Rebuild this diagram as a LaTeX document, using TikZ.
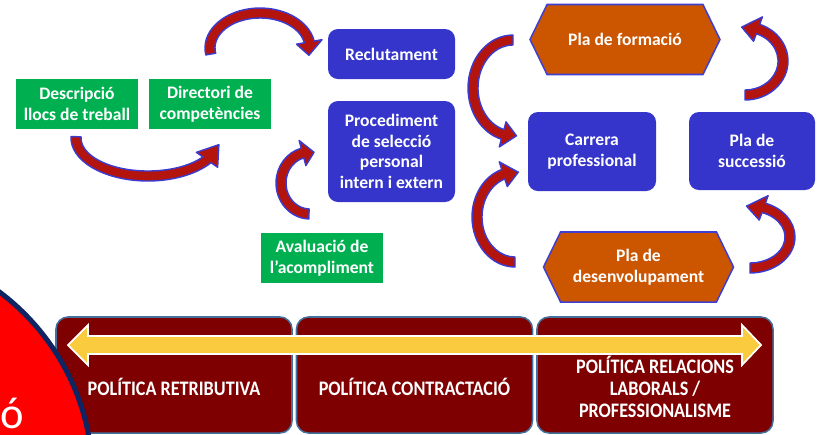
\documentclass[tikz,border=0pt]{standalone}
\usepackage{fontspec}
\setmainfont{Carlito}
\newfontfamily\polfont[FakeStretch=0.88]{Carlito}
\usetikzlibrary{shapes.symbols, calc}

\definecolor{greenbox}{HTML}{00B050}
\definecolor{bluebox}{HTML}{3535CB}
\definecolor{orangebox}{HTML}{CC5500}
\definecolor{hexline}{HTML}{3F3FD0}
\definecolor{maroon}{HTML}{7F0000}
\definecolor{polline}{HTML}{41719C}
\definecolor{yellowarrow}{HTML}{FACB3E}
\definecolor{navy}{HTML}{0F2463}
\definecolor{ribbonred}{HTML}{B3150E}
\definecolor{ribbonline}{HTML}{3B3BD1}

% curved block arrow: centre x, centre y, rx, ry, tail angle, head base angle, tip angle
\newcommand{\ribbon}[7]{%
  \begin{scope}[shift={(#1,#2)}]
    \pgfmathsetmacro\rxo{#3+5}\pgfmathsetmacro\ryo{#4+5}
    \pgfmathsetmacro\rxi{#3-5}\pgfmathsetmacro\ryi{#4-5}
    \pgfmathsetmacro\rxh{#3+13}\pgfmathsetmacro\ryh{#4+13}
    \pgfmathsetmacro\rxl{#3-13}\pgfmathsetmacro\ryl{#4-13}
    \draw[ribbonarrow] ({\rxo*cos(#5)},{\ryo*sin(#5)})
      arc[start angle=#5, end angle=#6, x radius=\rxo, y radius=\ryo]
      -- ({\rxh*cos(#6)},{\ryh*sin(#6)}) -- ({#3*cos(#7)},{#4*sin(#7)})
      -- ({\rxl*cos(#6)},{\ryl*sin(#6)}) -- ({\rxi*cos(#6)},{\ryi*sin(#6)})
      arc[start angle=#6, end angle=#5, x radius=\rxi, y radius=\ryi] -- cycle;
  \end{scope}}

\begin{document}
\begin{tikzpicture}[x=0.03cm, y=0.03cm,
    every node/.style={text=white, align=center, font=\fontsize{15}{17.5}\selectfont\bfseries},
    greenbox/.style={fill=greenbox, minimum width=3.66cm, minimum height=1.5cm, inner sep=0pt},
    bluebox/.style={fill=bluebox, rounded corners=0.3cm, inner sep=0pt},
    hexbox/.style={shape=signal, signal to=east and west, signal pointer angle=128,
      fill=orangebox, draw=hexline, line width=1.3pt, minimum width=5.7cm, minimum height=2.1cm, inner sep=0pt},
    polbox/.style={fill=maroon, draw=polline, line width=1.3pt, rounded corners=0.36cm,
      minimum width=7.08cm, minimum height=3.48cm},
    poltext/.style={font=\fontsize{17.6}{18.7}\polfont\bfseries},
    ribbonarrow/.style={fill=ribbonred, draw=ribbonline, line width=1.2pt, line join=round}]
  \clip (0,0) rectangle (817,-434);

  \node[greenbox] (desc) at (77,-104) {Descripció\\llocs de treball};
  \node[greenbox] (dir) at (210,-104) {Directori de\\competències};
  \node[greenbox] (aval) at (322,-258) {Avaluació de\\l’acompliment};

  \node[bluebox, minimum width=3.81cm, minimum height=1.5cm] (recl) at (391.5,-54) {Reclutament};
  \node[bluebox, minimum width=3.81cm, minimum height=3.03cm] (proc) at (391.5,-151.5)
    {Procediment\\de selecció\\personal\\intern i extern};
  \node[bluebox, minimum width=3.84cm, minimum height=2.37cm] (carr) at (592,-151.5) {Carrera\\professional};
  \node[bluebox, minimum width=3.78cm, minimum height=2.34cm] (succ) at (752,-151) {Pla de\\successió};

  \node[hexbox] (form) at (625,-39.5) {Pla de formació};
  \node[hexbox] (desenv) at (638.5,-267) {Pla de\\desenvolupament};

  \ribbon{148}{-138}{72}{38}{178}{325}{350}
  \ribbon{260}{-48}{50}{35}{190}{10}{-12}
  \ribbon{310}{-183}{29}{31}{268}{105}{82}
  \ribbon{513}{-88}{40}{48}{90}{255}{275}
  \ribbon{515}{-217}{38}{45}{270}{108}{85}
  \ribbon{745}{-61}{38}{34}{-90}{70}{95}
  \ribbon{750}{-237}{40}{31}{-90}{70}{95}

  \node[polbox] (pol1) at (174,-375) {};
  \node[polbox] (pol2) at (414.5,-375) {};
  \node[polbox] (pol3) at (655,-375) {};
  \node[poltext] at ($(pol1)+(0,-12)$) {POLÍTICA RETRIBUTIVA};
  \node[poltext] at ($(pol2)+(0,-12)$) {POLÍTICA CONTRACTACIÓ};
  \node[poltext] at ($(pol3)+(0,-12)$) {POLÍTICA RELACIONS\\LABORALS /\\PROFESSIONALISME};

  \coordinate (la) at (68,-345);
  \coordinate (ra) at (761,-345);
  \fill[yellowarrow, draw=white, line width=1.5pt, line join=miter]
    (la) -- ($(la)+(20,20)$) -- ($(la)+(20,9)$) -- ($(ra)+(-19,9)$) -- ($(ra)+(-19,20)$)
    -- (ra) -- ($(ra)+(-19,-20)$) -- ($(ra)+(-19,-9)$) -- ($(la)+(20,-9)$) -- ($(la)+(20,-20)$) -- cycle;

  \draw[fill=red, draw=navy, line width=4.25pt] (-140,-478) circle (232.5);
  \node[anchor=base west, inner sep=0pt, font=\fontsize{38}{40}\selectfont] (oacc) at (0,-428) {ó};
\end{tikzpicture}
\end{document}
